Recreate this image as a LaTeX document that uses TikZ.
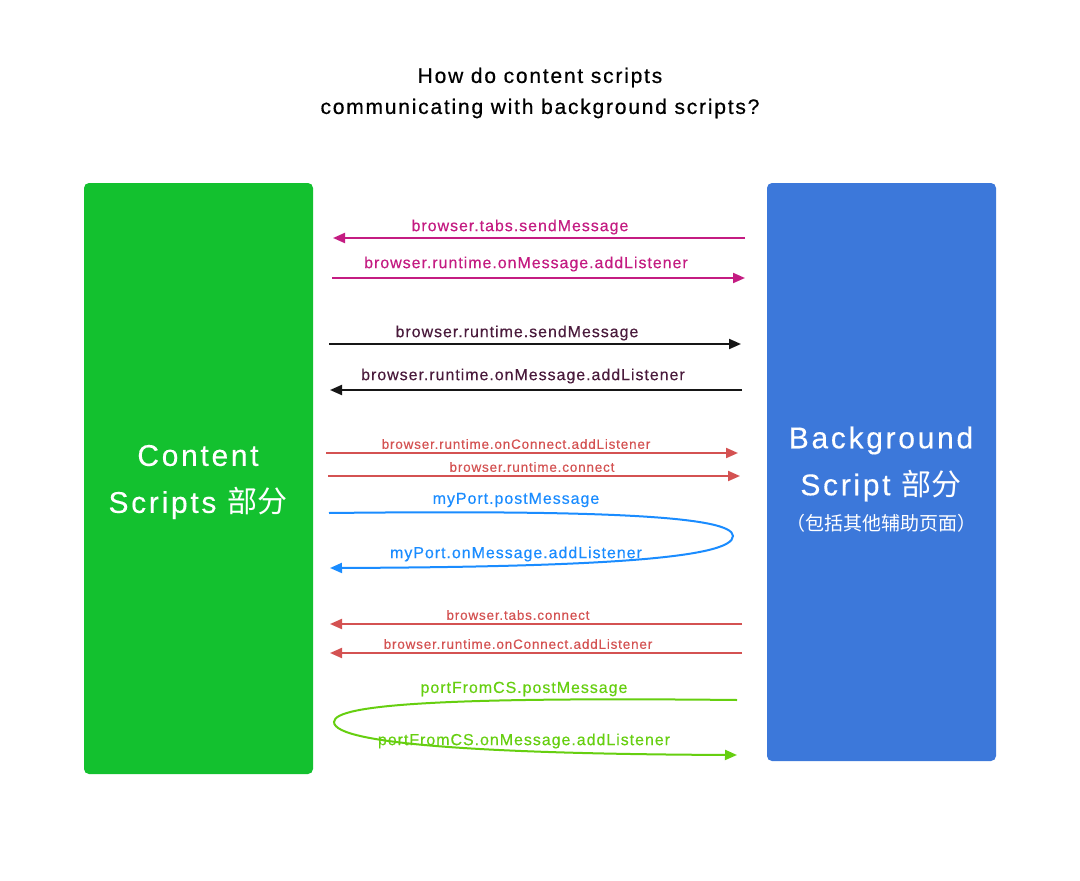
\documentclass[tikz,border=0pt]{standalone}
\usepackage{fontspec}
\setmainfont{Liberation Sans}
\newfontfamily\cjk{Noto Sans CJK SC}
\usetikzlibrary{arrows.meta}
\definecolor{cgreen}{HTML}{13C12F}
\definecolor{cblue}{HTML}{3C78DA}
\definecolor{cmag}{HTML}{C41C82}
\definecolor{cdark}{HTML}{161616}
\definecolor{cdarktext}{HTML}{4A1B3C}
\definecolor{cred}{HTML}{D45252}
\definecolor{cport}{HTML}{1A8CFF}
\definecolor{cgport}{HTML}{66CF10}
\tikzset{
  side/.style={rounded corners=5pt, draw=none},
  boxtext/.style={text=white, align=center, font=\fontsize{30}{47}\selectfont\addfontfeatures{LetterSpace=9,FakeBold=0.3}},
  msg/.style={line width=2pt, -{Triangle[length=12pt,width=10pt]}},
  lab/.style={font=\fontsize{16}{18}\selectfont\addfontfeatures{LetterSpace=6,FakeBold=0.3}, inner sep=0pt},
  slab/.style={font=\fontsize{13.5}{15}\selectfont\addfontfeatures{LetterSpace=6,FakeBold=0.2}, inner sep=0pt},
}
\begin{document}
\begin{tikzpicture}[x=1pt,y=-1pt]
\useasboundingbox (0,0) rectangle (1080,881);
\fill[white] (0,0) rectangle (1080,881);
% title
\node[align=center, font=\fontsize{21}{31}\selectfont\addfontfeatures{LetterSpace=8.5,FakeBold=0.6}] (title) at (540,93) {How do content scripts\\communicating with background scripts?};
% boxes
\fill[cgreen, side] (84,183) rectangle (313,774);
\fill[cblue, side] (767,183) rectangle (996,761);
\node[boxtext] (cs) at (198,482) {Content\\Scripts {\cjk 部分}};
\node[boxtext] (bg) at (881,464) {Background\\Script {\cjk 部分}};
\node[text=white, font=\fontsize{19}{21}\selectfont\cjk] (bgsub) at (881,523) {（包括其他辅助页面）};
% coordinates
\coordinate (a1s) at (745,238); \coordinate (a1e) at (333,238);
\coordinate (a2s) at (332,278); \coordinate (a2e) at (745,278);
\coordinate (a3s) at (329,344); \coordinate (a3e) at (741,344);
\coordinate (a4s) at (742,390); \coordinate (a4e) at (330,390);
\coordinate (a5s) at (326,453); \coordinate (a5e) at (738,453);
\coordinate (a6s) at (328,476); \coordinate (a6e) at (740,476);
\coordinate (a7s) at (329,513); \coordinate (a7m) at (733,536); \coordinate (a7e) at (330,568);
\coordinate (a8s) at (742,624); \coordinate (a8e) at (330,624);
\coordinate (a9s) at (742,653); \coordinate (a9e) at (330,653);
\coordinate (a10s) at (737,700); \coordinate (a10m) at (334,722); \coordinate (a10e) at (737,755);
% arrows
\draw[msg, cmag] (a1s) -- (a1e);
\node[lab, text=cmag] (l1) at (520,227) {browser.tabs.sendMessage};
\draw[msg, cmag] (a2s) -- (a2e);
\node[lab, text=cmag] (l2) at (526,264) {browser.runtime.onMessage.addListener};
\draw[msg, cdark] (a3s) -- (a3e);
\node[lab, text=cdarktext] (l3) at (517,333) {browser.runtime.sendMessage};
\draw[msg, cdark] (a4s) -- (a4e);
\node[lab, text=cdarktext] (l4) at (523,376) {browser.runtime.onMessage.addListener};
\draw[msg, cred] (a5s) -- (a5e);
\node[slab, text=cred] (l5) at (516,444) {browser.runtime.onConnect.addListener};
\draw[msg, cred] (a6s) -- (a6e);
\node[slab, text=cred] (l6) at (532,467) {browser.runtime.connect};
\draw[msg, cport] (a7s) .. controls (600,510) and (733,516) .. (a7m) .. controls (733,558) and (600,567) .. (a7e);
\node[lab, text=cport] (l7a) at (516,500) {myPort.postMessage};
\node[lab, text=cport] (l7b) at (516,554) {myPort.onMessage.addListener};
\draw[msg, cred] (a8s) -- (a8e);
\node[slab, text=cred] (l8) at (518,615) {browser.tabs.connect};
\draw[msg, cred] (a9s) -- (a9e);
\node[slab, text=cred] (l9) at (518,644) {browser.runtime.onConnect.addListener};
\draw[msg, cgport] (a10s) .. controls (450,697) and (334,704) .. (a10m) .. controls (334,745) and (500,754) .. (a10e);
\node[lab, text=cgport] (l10a) at (524,689) {portFromCS.postMessage};
\node[lab, text=cgport] (l10b) at (524,741) {portFromCS.onMessage.addListener};
\end{tikzpicture}
\end{document}
